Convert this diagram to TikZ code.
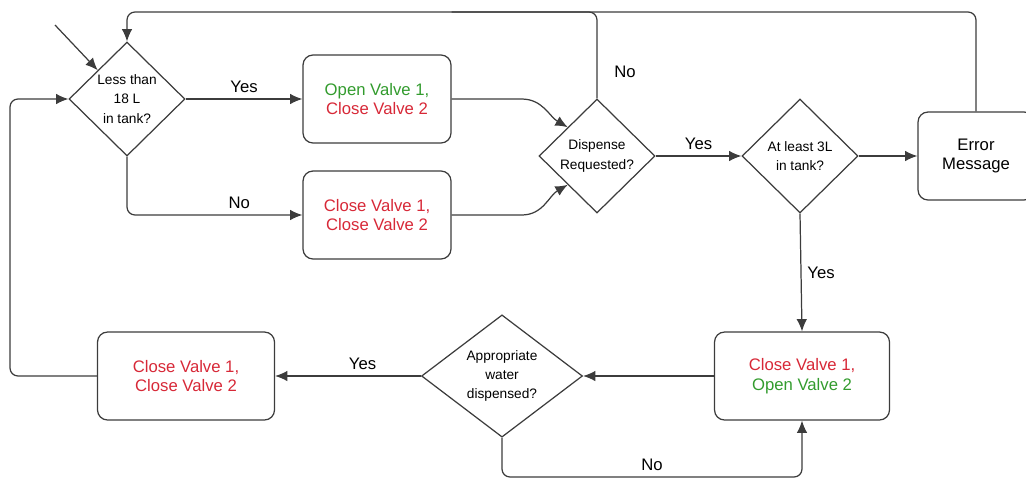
\documentclass[tikz,border=0pt]{standalone}
\usepackage{fontspec}
\setmainfont{Liberation Sans}
\usetikzlibrary{shapes.geometric,arrows.meta}
\definecolor{valvegreen}{RGB}{50,155,45}
\definecolor{valvered}{RGB}{215,40,55}
\definecolor{linegray}{RGB}{60,60,60}
\tikzset{
  action/.style={draw=linegray, line width=0.7pt, rounded corners=0.2cm,
    minimum width=2.96cm, minimum height=1.76cm, align=center,
    font=\fontsize{9.5}{11.3}\selectfont},
  question/.style={draw=linegray, line width=0.7pt, diamond, inner sep=0pt,
    minimum width=2.32cm, minimum height=2.28cm, align=center,
    font=\fontsize{7.8}{11}\selectfont},
  flow/.style={draw=linegray, line width=0.7pt, -{Latex[length=7pt,width=6pt]}},
  plain/.style={draw=linegray, line width=0.7pt},
  answer/.style={font=\fontsize{9.5}{10}\selectfont}
}
\begin{document}
\begin{tikzpicture}[x=0.02cm, y=-0.02cm]
  \useasboundingbox (0,0) rectangle (1026,478);
  \coordinate (entry) at (55,25);
  \coordinate (toprail) at (0,12);
  \coordinate (leftrail) at (10,0);
  \coordinate (bottomrail) at (0,477);
  % decisions
  \node[question] (less) at (127,99) {Less than\\18 L\\in tank?};
  \node[question] (dispense) at (597,156) {Dispense\\Requested?};
  \node[question] (atleast) at (800,156) {At least 3L\\in tank?};
  \node[question, minimum width=3.22cm, minimum height=2.34cm] (approp) at (502,376) {Appropriate\\water\\dispensed?};
  % valve actions
  \node[action] (openone) at (377,99) {\textcolor{valvegreen}{Open Valve 1,}\\\textcolor{valvered}{Close Valve 2}};
  \node[action] (closeboth) at (377,215) {\textcolor{valvered}{Close Valve 1,}\\\textcolor{valvered}{Close Valve 2}};
  \node[action, minimum width=2.32cm] (error) at (976,156) {Error\\Message};
  \node[action, minimum width=3.5cm] (opentwo) at (802,376) {\textcolor{valvered}{Close Valve 1,}\\\textcolor{valvegreen}{Open Valve 2}};
  \node[action, minimum width=3.54cm] (closeall) at (186,376) {\textcolor{valvered}{Close Valve 1,}\\\textcolor{valvered}{Close Valve 2}};
  % connectors
  \draw[flow] (entry) -- (less.north west);
  \draw[flow, rounded corners=0.16cm] (error.north) |- (less.north |- toprail) -- (less.north);
  \draw[plain, rounded corners=0.16cm] (dispense.north) |- (openone.east |- toprail);
  \node[answer] at (625,72) {No};
  \draw[flow] (less.east) -- node[answer, above] {Yes} (openone.west);
  \draw[flow, rounded corners=0.16cm] (less.south) |- node[answer, above, pos=0.82] {No} (closeboth.west);
  \draw[flow] (openone.east) -- ++(70,0) to[out=0, in=150] (dispense.north west);
  \draw[flow] (closeboth.east) -- ++(70,0) to[out=0, in=210] (dispense.south west);
  \draw[flow] (dispense.east) -- node[answer, above] {Yes} (atleast.west);
  \draw[flow] (atleast.east) -- (error.west);
  \draw[flow] (atleast.south) -- node[answer, right] {Yes} (opentwo.north);
  \draw[flow] (opentwo.west) -- (approp.east);
  \draw[flow] (approp.west) -- node[answer, above, pos=0.4] {Yes} (closeall.east);
  \draw[flow, rounded corners=0.16cm] (closeall.west) -| (leftrail |- less.west) -- (less.west);
  \draw[flow, rounded corners=0.16cm] (approp.south) |- node[answer, above, pos=0.75] {No} (opentwo.south |- bottomrail) -- (opentwo.south);
\end{tikzpicture}
\end{document}
